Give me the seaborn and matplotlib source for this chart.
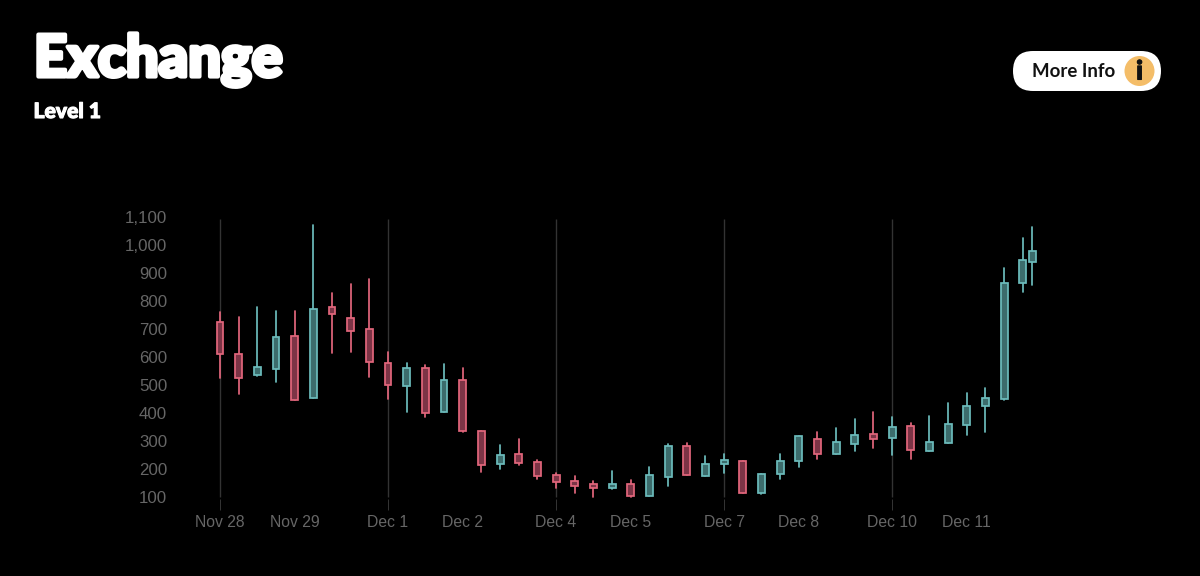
import matplotlib
matplotlib.use("Agg")
import matplotlib.pyplot as plt
from matplotlib.patches import FancyBboxPatch, Circle
import matplotlib.patheffects as pe
import pandas as pd
import seaborn as sns

# slot of each candle along the (ordinal) time axis
slots = list(range(44)) + [43.5]
opens = [727, 611, 538, 557, 675, 455, 781, 739, 700, 581, 498, 563,
         403, 518, 338, 218, 256, 225, 180, 158, 146, 132, 146, 105,
         172, 284, 177, 218, 231, 117, 185, 231, 309, 253, 290, 327,
         311, 356, 264, 295, 359, 426, 451, 867, 939]
closes = [611, 525, 565, 673, 447, 771, 754, 693, 582, 501, 563, 402,
          520, 337, 214, 251, 224, 177, 153, 142, 134, 149, 103, 181,
          282, 180, 218, 232, 117, 183, 231, 319, 256, 299, 322, 309,
          352, 269, 299, 361, 425, 456, 864, 948, 978]
highs = [762, 743, 779, 767, 764, 1071, 829, 861, 879, 618, 579, 574,
         576, 560, 338, 285, 307, 233, 185, 177, 159, 195, 162, 208,
         289, 295, 247, 256, 231, 183, 253, 319, 334, 347, 378, 403,
         388, 364, 389, 437, 471, 491, 918, 1027, 1064]
lows = [527, 468, 532, 513, 446, 454, 617, 620, 530, 451, 404, 385,
        403, 332, 191, 202, 214, 166, 132, 116, 100, 131, 101, 105,
        141, 178, 176, 188, 116, 113, 164, 208, 237, 253, 266, 277,
        252, 236, 264, 295, 321, 334, 446, 834, 858]
tick_slots = [0, 4, 9, 13, 18, 22, 27, 31, 36, 40]
tick_labels = ["Nov 28", "Nov 29", "Dec 1", "Dec 2", "Dec 4", "Dec 5",
               "Dec 7", "Dec 8", "Dec 10", "Dec 11"]
grid_slots = [0, 9, 18, 27, 36]
y_ticks = [100, 200, 300, 400, 500, 600, 700, 800, 900, 1000, 1100]

W, H = 1200, 576
BG = "#000000"
UP_EDGE, UP_FILL = "#6cbcbc", "#3c6c6c"
DOWN_EDGE, DOWN_FILL = "#e2667c", "#7c3446"
LABEL = "#666666"
GRID = "#333333"

sns.set_theme(style="dark", rc={"axes.facecolor": BG, "figure.facecolor": BG})
plt.rcParams["font.family"] = ["Liberation Sans", "DejaVu Sans"]

fig = plt.figure(figsize=(W / 100, H / 100), dpi=100, facecolor=BG)

# plot area in pixels
L, R, T, B = 175, 1060, 217.3, 499
ax = fig.add_axes([L / W, 1 - B / H, (R - L) / W, (B - T) / H])
ax.set_facecolor(BG)
step = 18.67
ax.set_xlim((L - 220) / step, (R - 220) / step)
ax.set_ylim(100 - (B - 497.3) / 0.28, 1100)

df = pd.DataFrame({"slot": slots, "open": opens, "close": closes,
                   "high": highs, "low": lows})
df["up"] = df["close"] >= df["open"]
df["candle"] = range(len(df))

ax.vlines(grid_slots, 100, 1095, color=GRID, lw=1.0, zorder=1)

wicks = pd.concat([df.assign(price=df["low"]), df.assign(price=df["high"])])
sns.lineplot(data=wicks, x="slot", y="price", units="candle", hue="up",
             estimator=None, sort=False, palette={True: UP_EDGE, False: DOWN_EDGE},
             lw=1.25, legend=False, ax=ax, zorder=2)

bottom = df[["open", "close"]].min(axis=1)
height = (df["close"] - df["open"]).abs()
ax.bar(df["slot"], height, bottom=bottom, width=0.37, zorder=3, linewidth=1.25,
       color=[UP_FILL if u else DOWN_FILL for u in df["up"]],
       edgecolor=[UP_EDGE if u else DOWN_EDGE for u in df["up"]])

ax.set_xlabel("")
ax.set_ylabel("")
ax.set_yticks(y_ticks)
ax.set_yticklabels([f"{v:,}" for v in y_ticks])
ax.set_xticks(tick_slots)
ax.set_xticklabels(tick_labels)
ax.tick_params(axis="y", length=0, pad=5.6, labelsize=12.2, labelcolor=LABEL)
ax.tick_params(axis="x", length=8, width=0.75, color=GRID, pad=3.2,
               labelsize=11.3, labelcolor=LABEL, bottom=True)
for s, t in zip(tick_slots, ax.xaxis.get_major_ticks()):
    if s not in grid_slots:
        t.tick1line.set_visible(False)
ax.grid(False)
sns.despine(ax=ax, left=True, bottom=True)

# header overlay in pixel coordinates
ov = fig.add_axes([0, 0, 1, 1], facecolor="none")
ov.set_xlim(0, W)
ov.set_ylim(H, 0)
ov.axis("off")
ov.text(34, 76.5, "Exchange", color="white", family="Lato", weight=900, fontsize=41.6,
        va="baseline", ha="left",
        path_effects=[pe.withStroke(linewidth=3.0, foreground="white")])
ov.text(33.5, 118, "Level 1", color="white", family="Lato", weight=900, fontsize=15.2,
        va="baseline", ha="left",
        path_effects=[pe.withStroke(linewidth=0.8, foreground="white")])
ov.add_patch(FancyBboxPatch((1013, 51), 148, 40, boxstyle="round,pad=0,rounding_size=20",
                            fc="white", ec="none"))
ov.text(1032, 77, "More Info", color="#111111", family="Lato", weight=700, fontsize=13.4,
        va="baseline", ha="left")
ov.add_patch(Circle((1139.5, 71), 15, fc="#f4bd68", ec="none"))
ov.text(1139.5, 71.5, "i", color="#111111", family="Lato", weight=900, fontsize=19,
        va="center", ha="center",
        path_effects=[pe.withStroke(linewidth=0.8, foreground="#111111")])

fig.savefig("out.png", dpi=100, facecolor=BG)
